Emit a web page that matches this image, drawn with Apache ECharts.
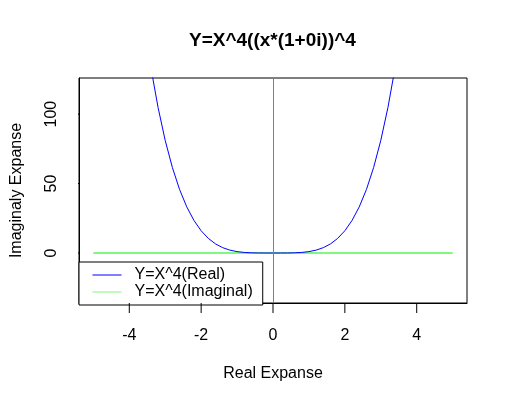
<!DOCTYPE html>
<html>
<head>
<meta charset="utf-8">
<script src="https://cdn.jsdelivr.net/npm/echarts@6/dist/echarts.min.js"></script>
<style>
    html, body { margin: 0; padding: 0; background: #fff; }
    #chart { width: 507px; height: 402px; }
</style>
</head>
<body>
<div id="chart"></div>
<script>
// x values of the sampled curve
const xs = [
    -5.0, -4.8, -4.6, -4.4, -4.2, -4.0, -3.8, -3.6, -3.4, -3.2, -3.0,
    -2.8, -2.6, -2.4, -2.2, -2.0, -1.8, -1.6, -1.4, -1.2, -1.0,
    -0.8, -0.6, -0.4, -0.2, 0.0, 0.2, 0.4, 0.6, 0.8, 1.0,
    1.2, 1.4, 1.6, 1.8, 2.0, 2.2, 2.4, 2.6, 2.8, 3.0,
    3.2, 3.4, 3.6, 3.8, 4.0, 4.2, 4.4, 4.6, 4.8, 5.0,
];
/** Y=X^4 (Real) */
const realY = [
    625, 530.84, 447.75, 374.81, 311.17, 256, 208.51, 167.96, 133.63, 104.86, 81,
    61.47, 45.70, 33.18, 23.43, 16, 10.50, 6.55, 3.84, 2.07, 1,
    0.41, 0.13, 0.03, 0.002, 0, 0.002, 0.03, 0.13, 0.41, 1,
    2.07, 3.84, 6.55, 10.50, 16, 23.43, 33.18, 45.70, 61.47, 81,
    104.86, 133.63, 167.96, 208.51, 256, 311.17, 374.81, 447.75, 530.84, 625,
];
/** Y=X^4 (Imaginal) */
const imagY = [
    0, 0, 0, 0, 0, 0, 0, 0, 0, 0, 0,
    0, 0, 0, 0, 0, 0, 0, 0, 0, 0,
    0, 0, 0, 0, 0, 0, 0, 0, 0, 0,
    0, 0, 0, 0, 0, 0, 0, 0, 0, 0,
    0, 0, 0, 0, 0, 0, 0, 0, 0, 0,
];
const xTicks = [-4, -2, 0, 2, 4];
const yTicks = [0, 50, 100];

const font = "'Liberation Sans', Arial, Helvetica, sans-serif";
const gridL = 79, gridR = 467, gridT = 78, gridB = 303;
const xMin = -5.4, xMax = 5.4, yMin = -36, yMax = 126;
const tickLen = 10;
// tick length in data units of each axis
const xTickLen = tickLen * (xMax - xMin) / (gridR - gridL);
const yTickLen = tickLen * (yMax - yMin) / (gridB - gridT);

// one short unclipped line per tick, outside the box like R
const tickLine = (data) => ({
    type: "line",
    data: data,
    symbol: "none",
    silent: true,
    clip: false,
    lineStyle: { color: "#000", width: 1 },
    itemStyle: { color: "#000" },
    z: 10,
});
const tickSeries = [
    ...xTicks.map((v) => tickLine([[v, yMin], [v, yMin - yTickLen]])),
    ...yTicks.map((v) => tickLine([[xMin, v], [xMin - xTickLen, v]])),
];

const option = {
    animation: false,
    textStyle: { fontFamily: font },
    graphic: [
        {
            type: "text",
            left: (gridL + gridR) / 2 - 84,
            top: 31,
            style: {
                text: "Y=X^4((x*(1+0i))^4",
                fontSize: 19,
                fontWeight: "bold",
                fontFamily: font,
                fill: "#000",
            },
        },
    ],
    grid: {
        left: gridL,
        right: 507 - gridR,
        top: gridT,
        bottom: 402 - gridB,
        show: true,
        borderColor: "#000",
        borderWidth: 1,
        backgroundColor: "transparent",
    },
    legend: {
        left: gridL,
        top: 262,
        orient: "vertical",
        backgroundColor: "#fff",
        borderColor: "#000",
        borderWidth: 1,
        borderRadius: 0,
        padding: [5, 10, 5, 13],
        itemWidth: 29,
        itemHeight: 14,
        itemGap: 1,
        itemStyle: {
            color: "rgba(0,0,0,0)",
            borderColor: "rgba(0,0,0,0)",
            borderWidth: 0,
        },
        lineStyle: { width: 1 },
        textStyle: {
            fontSize: 16,
            fontFamily: font,
            color: "#000",
            padding: [0, 0, 0, 8],
        },
        data: ["Y=X^4(Real)", "Y=X^4(Imaginal)"],
    },
    xAxis: {
        type: "value",
        min: xMin,
        max: xMax,
        name: "Real Expanse",
        nameLocation: "middle",
        nameGap: 63,
        nameTextStyle: { fontSize: 16, color: "#000", fontFamily: font },
        axisLine: { show: true, onZero: false, lineStyle: { color: "#000", width: 1 } },
        splitLine: { show: false },
        axisTick: { show: false },
        axisLabel: {
            customValues: xTicks,
            fontSize: 16,
            color: "#000",
            margin: 25,
            fontFamily: font,
        },
    },
    yAxis: {
        type: "value",
        min: yMin,
        max: yMax,
        name: "Imaginaly Expanse",
        nameLocation: "middle",
        nameGap: 54,
        nameTextStyle: { fontSize: 16, color: "#000", fontFamily: font },
        axisLine: { show: true, onZero: false, lineStyle: { color: "#000", width: 1 } },
        splitLine: { show: false },
        axisTick: { show: false },
        axisLabel: {
            customValues: yTicks,
            rotate: 90,
            fontSize: 16,
            color: "#000",
            margin: 19,
            fontFamily: font,
        },
    },
    series: [
        {
            name: "Y=X^4(Real)",
            type: "line",
            symbol: "none",
            clip: true,
            lineStyle: { color: "#0000FF", width: 1 },
            itemStyle: { color: "#0000FF" },
            data: xs.map((x, i) => [x, realY[i]]),
            markLine: {
                silent: true,
                symbol: "none",
                label: { show: false },
                lineStyle: { color: "#808080", type: "solid", width: 1 },
                data: [{ xAxis: 0 }],
            },
            z: 3,
        },
        {
            name: "Y=X^4(Imaginal)",
            type: "line",
            symbol: "none",
            lineStyle: { color: "#80F880", width: 2 },
            itemStyle: { color: "#80F880" },
            data: xs.map((x, i) => [x, imagY[i]]),
            z: 2,
        },
        ...tickSeries,
    ],
};

const chart = echarts.init(document.getElementById("chart"));
chart.setOption(option);
</script>
</body>
</html>
